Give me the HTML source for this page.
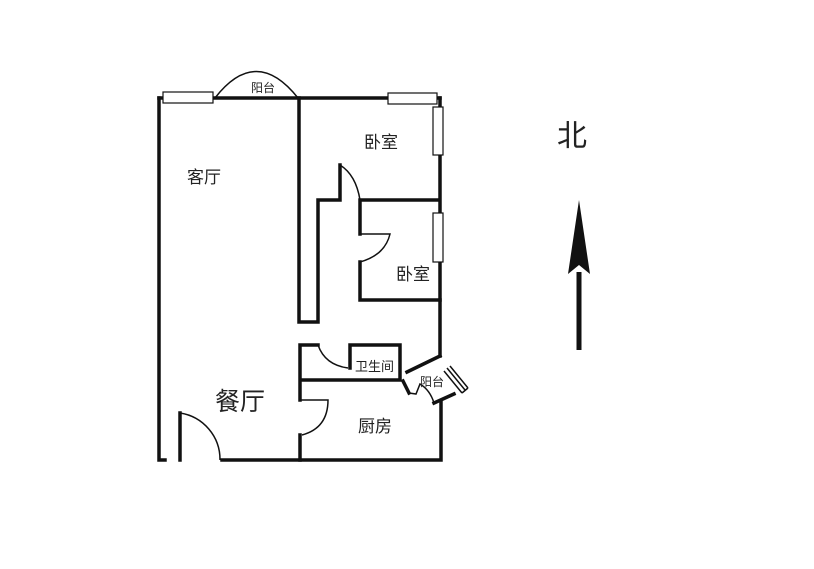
<!DOCTYPE html>
<html><head><style>body{margin:0;background:#fff}svg{display:block}text{font-family:"Liberation Sans","Noto Sans CJK SC",sans-serif;fill:#222}</style></head>
<body>
<svg width="814" height="569" viewBox="0 0 814 569" xmlns="http://www.w3.org/2000/svg">
<g stroke="#111" stroke-width="3.5" fill="none" stroke-linecap="square">
<path d="M159 98V460H165M180 460V413M222 460H441V402M440 98V356"/>
<path d="M440 98H159"/>
<path d="M299 98V322H318V200H340V165"/>
<path d="M360 215V200H438M360 234V215M360 262V300H440"/>
<path d="M300 400V380H400V345H350V368M318 345H300V380M300 435V460"/>
<path d="M440 356L407 372M403 381L409 393M434 403L454 394"/>
</g>
<g stroke="#111" stroke-width="1.5" fill="none">
<path d="M180 413A47 47 0 0 1 220 460"/>
<path d="M215 98Q256 45 298 98"/>
<path d="M340 165Q356 175 360 200"/>
<path d="M360 234H390Q385 255 360 262"/>
<path d="M318 345Q325 365 348 368"/>
<path d="M300 400H328Q328 428 302 435"/>
<path d="M409 393L416 394L420 384Q430 390 434 403"/>
<path d="M444 371L462 393M447 368L465 390M450 366L468 388M462 393L468 388"/>
</g>
<g stroke="#111" stroke-width="1.2" fill="#fff">
<rect x="163" y="92" width="50" height="11"/><rect x="388" y="93" width="49" height="11"/>
<rect x="433" y="107" width="10" height="48"/><rect x="433" y="213" width="10" height="49"/>
</g>
<g font-size="17"><text x="187" y="183">客厅</text><text x="364" y="148">卧室</text><text x="396" y="280">卧室</text><text x="358" y="432">厨房</text></g>
<text x="215" y="410" font-size="25">餐厅</text>
<g font-size="12"><text x="251" y="92">阳台</text><text x="355" y="371" font-size="13">卫生间</text><text x="420" y="386">阳台</text></g>
<text x="557" y="146" font-size="30">北</text>
<path d="M579 350V272" stroke="#111" stroke-width="5"/>
<path d="M579 200L568 274L579 265L590 274Z" fill="#111"/>
</svg>
</body></html>
